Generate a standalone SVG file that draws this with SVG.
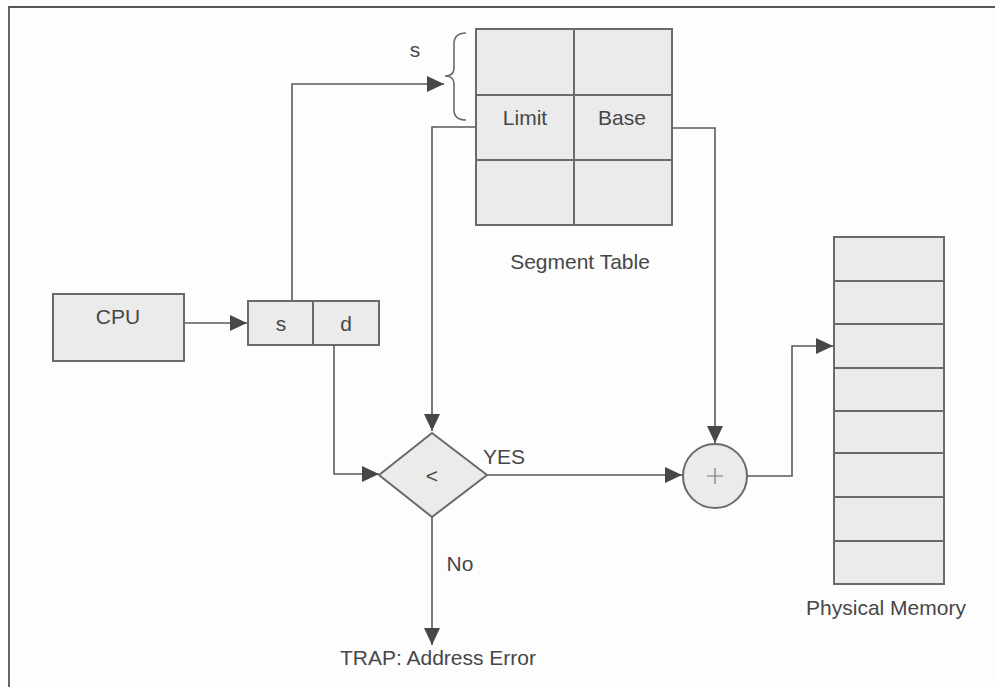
<svg xmlns="http://www.w3.org/2000/svg" width="995" height="687" viewBox="0 0 995 687">
<style>
text{font-family:"Liberation Sans",Arial,sans-serif;font-size:21px;fill:#474747;text-anchor:middle}
.box{fill:#ebebeb;stroke:#6a6a6a;stroke-width:2}
.ln{fill:none;stroke:#5a5a5a;stroke-width:1.6}
.div{stroke:#6a6a6a;stroke-width:2}
</style>
<defs>
<marker id="ah" markerUnits="userSpaceOnUse" markerWidth="18" markerHeight="16" refX="17" refY="8" orient="auto">
<path d="M0,0 L17,8 L0,16 Z" fill="#474747"/>
</marker>
</defs>
<rect width="995" height="687" fill="#fdfdfd"/>
<path d="M9,687 L9,7 L995,7" fill="none" stroke="#555" stroke-width="1.8"/>

<g id="connectors">
<path class="ln" d="M292,301 L292,84 L444,84" marker-end="url(#ah)"/>
<path class="ln" d="M476,127 L432,127 L432,431" marker-end="url(#ah)"/>
<path class="ln" d="M672,128 L715,128 L715,443" marker-end="url(#ah)"/>
<path class="ln" d="M184,323 L247,323" marker-end="url(#ah)"/>
<path class="ln" d="M334,345 L334,474 L379,474" marker-end="url(#ah)"/>
<path class="ln" d="M487,475 L682,475" marker-end="url(#ah)"/>
<path class="ln" d="M747,476 L792,476 L792,346 L833,346" marker-end="url(#ah)"/>
<path class="ln" d="M432,517 L432,645" marker-end="url(#ah)"/>
</g>

<g id="brace">
<path d="M466,33 C458,33 454,36 454,44 L454,68 C454,73 451,76 445,76 C451,76 454,79 454,84 L454,110 C454,117 458,120 466,120" fill="none" stroke="#6a6a6a" stroke-width="1.6"/>
<text x="415" y="57">s</text>
</g>

<g id="segment-table">
<rect class="box" x="476" y="29" width="196" height="196"/>
<line class="div" x1="574" y1="29" x2="574" y2="225"/>
<line class="div" x1="476" y1="95" x2="672" y2="95"/>
<line class="div" x1="476" y1="160" x2="672" y2="160"/>
<text x="525" y="125">Limit</text>
<text x="622" y="125">Base</text>
<text x="580" y="269">Segment Table</text>
</g>

<g id="cpu">
<rect class="box" x="53" y="294" width="131" height="67"/>
<text x="118" y="324">CPU</text>
</g>

<g id="address">
<rect class="box" x="248" y="301" width="131" height="44"/>
<line class="div" x1="313" y1="301" x2="313" y2="345"/>
<text x="281" y="331">s</text>
<text x="346" y="331">d</text>
</g>

<g id="compare">
<path class="box" d="M432,433 L487,475 L432,517 L379,475 Z"/>
<text x="432" y="483">&lt;</text>
<text x="504" y="464">YES</text>
<text x="460" y="571">No</text>
</g>

<g id="adder">
<circle class="box" cx="715" cy="476" r="32"/>
<path d="M715,468 L715,484 M707,476 L723,476" stroke="#777" stroke-width="1.2"/>
</g>

<g id="trap">
<text x="438" y="665">TRAP: Address Error</text>
</g>

<g id="memory">
<rect class="box" x="834" y="237" width="110" height="347"/>
<line class="div" x1="834" y1="281" x2="944" y2="281"/>
<line class="div" x1="834" y1="324" x2="944" y2="324"/>
<line class="div" x1="834" y1="368" x2="944" y2="368"/>
<line class="div" x1="834" y1="411" x2="944" y2="411"/>
<line class="div" x1="834" y1="453" x2="944" y2="453"/>
<line class="div" x1="834" y1="497" x2="944" y2="497"/>
<line class="div" x1="834" y1="541" x2="944" y2="541"/>
<text x="886" y="615">Physical Memory</text>
</g>
</svg>
